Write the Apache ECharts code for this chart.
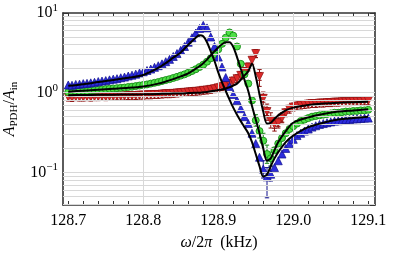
<!DOCTYPE html>
<html><head><meta charset="utf-8">
<script src="https://cdn.jsdelivr.net/npm/echarts@6/dist/echarts.min.js"></script>
<style>html,body{margin:0;padding:0;background:#fff}#c{width:395px;height:260px}</style>
</head><body><div id="c"></div>
<script>
// ---- data ----
const freq = [128.700,128.705,128.710,128.715,128.720,128.725,128.730,128.735,128.740,128.745,
128.750,128.755,128.760,128.765,128.770,128.775,128.780,128.785,128.790,128.795,
128.800,128.805,128.810,128.815,128.820,128.825,128.830,128.835,128.840,128.845,
128.850,128.855,128.860,128.865,128.870,128.875,128.880,128.885,128.890,128.895,
128.900,128.905,128.910,128.915,128.920,128.925,128.930,128.935,128.940,128.945,
128.950,128.955,128.960,128.965,128.970,128.975,128.980,128.985,128.990,128.995,
129.000,129.005,129.010,129.015,129.020,129.025,129.030,129.035,129.040,129.045,
129.050,129.055,129.060,129.065,129.070,129.075,129.080,129.085,129.090,129.095,129.100];
const blueData = [1.25,1.24,1.27,1.28,1.30,1.31,1.33,1.35,1.38,1.40,
1.42,1.45,1.48,1.50,1.54,1.57,1.62,1.66,1.71,1.77,
1.83,1.90,1.98,2.08,2.18,2.30,2.45,2.62,2.85,3.10,
3.40,3.80,4.30,4.90,5.60,6.40,7.00,6.50,5.00,3.80,
2.80,2.10,1.55,1.20,0.95,0.80,0.63,0.50,0.41,0.31,
0.23,0.155,0.11,0.088,0.095,0.115,0.14,0.17,0.20,0.23,
0.26,0.29,0.31,0.33,0.35,0.37,0.385,0.40,0.41,0.42,
0.43,0.44,0.445,0.45,0.46,0.46,0.47,0.47,0.475,0.48,0.48];
const greenData = [1.02,1.00,1.03,1.04,1.05,1.05,1.07,1.08,1.09,1.10,
1.11,1.12,1.13,1.14,1.15,1.16,1.18,1.19,1.21,1.23,
1.25,1.27,1.30,1.33,1.36,1.40,1.44,1.48,1.53,1.58,
1.64,1.70,1.78,1.87,1.97,2.10,2.25,2.45,2.70,3.05,
3.50,4.10,4.90,5.70,5.20,3.80,2.30,1.70,1.30,0.80,
0.45,0.33,0.25,0.17,0.15,0.19,0.23,0.27,0.31,0.35,
0.38,0.41,0.44,0.46,0.48,0.50,0.51,0.52,0.53,0.54,
0.55,0.56,0.56,0.57,0.58,0.58,0.59,0.59,0.60,0.60,0.61];
const redData = [0.88,0.87,0.89,0.88,0.88,0.89,0.88,0.89,0.89,0.90,
0.89,0.90,0.90,0.91,0.90,0.91,0.92,0.91,0.92,0.93,
0.93,0.94,0.94,0.95,0.95,0.96,0.97,0.97,0.98,0.99,
1.00,1.01,1.02,1.03,1.04,1.05,1.07,1.08,1.10,1.12,
1.15,1.19,1.23,1.30,1.40,1.50,1.65,1.85,2.10,2.55,
3.10,1.60,0.85,0.58,0.45,0.40,0.42,0.48,0.56,0.62,
0.66,0.68,0.70,0.71,0.72,0.73,0.73,0.74,0.74,0.75,
0.75,0.76,0.76,0.77,0.77,0.77,0.78,0.78,0.78,0.79,0.79];

const fitFreq = [128.70,128.72,128.74,128.76,128.78,128.80,128.82,128.83,128.84,128.85,
128.86,128.87,128.875,128.88,128.885,128.89,128.895,128.90,128.905,128.91,
128.915,128.92,128.925,128.93,128.935,128.94,128.945,128.95,128.955,128.96,
128.965,128.97,128.975,128.98,128.99,129.00,129.02,129.04,129.06,129.08,129.10];
const blueFit = [1.22,1.28,1.36,1.44,1.54,1.67,2.05,2.35,2.75,3.2,
4.0,4.9,5.25,5.1,4.3,3.3,2.5,1.8,1.35,1.05,
0.82,0.65,0.53,0.44,0.37,0.31,0.24,0.17,0.12,0.089,
0.094,0.12,0.15,0.18,0.24,0.29,0.37,0.42,0.46,0.48,0.50];
const greenFit = [1.03,1.06,1.09,1.12,1.15,1.2,1.3,1.38,1.48,1.6,
1.75,2.0,2.15,2.35,2.6,2.95,3.3,3.7,4.05,4.3,
4.3,3.75,2.8,2.0,1.45,1.05,0.68,0.46,0.31,0.2,
0.14,0.15,0.19,0.24,0.33,0.42,0.49,0.54,0.58,0.60,0.62];
const redFit = [0.93,0.935,0.94,0.945,0.95,0.955,0.965,0.97,0.975,0.98,
0.99,1.0,1.0,1.01,1.02,1.04,1.06,1.08,1.1,1.13,
1.17,1.23,1.3,1.45,1.65,1.85,2.3,1.6,0.95,0.58,
0.41,0.42,0.47,0.52,0.6,0.65,0.70,0.73,0.75,0.76,0.77];

// error bars [freq, low, high]
const blueErr = [[128.960,0.085,0.14],[128.965,0.048,0.115],[128.970,0.078,0.12]];
const greenErr = [[128.950,0.38,0.53],[128.955,0.27,0.40],[128.960,0.20,0.31],[128.965,0.13,0.22],[128.970,0.12,0.18]];
const redErr = [[128.950,2.75,3.45],[128.955,1.2,1.95],[128.960,0.68,1.02],[128.965,0.45,0.72],
[128.970,0.36,0.56],[128.975,0.33,0.49],[128.980,0.36,0.50],[128.985,0.42,0.56]];
const redRelErr = 0.12; // typical size of the small red error bars

const xLabelValues = [128.7,128.8,128.9,129.0,129.1];
const xTickValues = [128.70,128.72,128.74,128.76,128.78,128.80,128.82,128.84,128.86,128.88,128.90,
128.92,128.94,128.96,128.98,129.00,129.02,129.04,129.06,129.08,129.10];
const xGrid = [128.8,128.9,129.0];
const yGrid = [0.04,0.05,0.06,0.07,0.08,0.09,0.1,0.2,0.3,0.4,0.5,0.6,0.7,0.8,0.9,1,2,3,4,5,6,7,8,9];

// ---- chart ----
const SERIF = '"Liberation Serif","DejaVu Serif",serif';
const C = {blue:'#2c2cdc', blueE:'#10108c', green:'#4ee046', greenE:'#178a17', red:'#dc2a2a', redE:'#8e1010'};

const pairs = (xs, ys) => xs.map((x, i) => [x, ys[i]]);
const smallRed = freq.map((f, i) => [f, redData[i] / (1 + redRelErr), redData[i] * (1 + redRelErr)]);

function errRender(color) {
  return function (params, api) {
    const x = api.value(0), lo = api.value(1), hi = api.value(2);
    const p1 = api.coord([x, lo]), p2 = api.coord([x, hi]);
    const cap = 2.2, st = {stroke: color, lineWidth: 1};
    return {type: 'group', children: [
      {type: 'line', shape: {x1: p1[0], y1: p1[1], x2: p2[0], y2: p2[1]}, style: st},
      {type: 'line', shape: {x1: p1[0] - cap, y1: p1[1], x2: p1[0] + cap, y2: p1[1]}, style: st},
      {type: 'line', shape: {x1: p2[0] - cap, y1: p2[1], x2: p2[0] + cap, y2: p2[1]}, style: st}
    ]};
  };
}

const frame = {lineStyle: {color: '#333', width: 1.6}};
const chart = echarts.init(document.getElementById('c'), null, {renderer: 'canvas'});
chart.setOption({
  animation: false,
  backgroundColor: '#fff',
  grid: {left: 63, right: 20, top: 13, bottom: 55, outerBoundsMode: 'none'},
  xAxis: [{
    type: 'value', min: 128.693, max: 129.109, position: 'bottom',
    axisLine: Object.assign({show: true, onZero: false}, frame),
    axisTick: {show: true, inside: true, length: 4, lineStyle: {color: '#333', width: 1}, customValues: xTickValues},
    axisLabel: {customValues: xLabelValues, fontFamily: SERIF, fontSize: 16, color: '#000', margin: 8,
      alignMinLabel: 'center', alignMaxLabel: 'center', hideOverlap: false,
      formatter: v => v.toFixed(1)},
    splitLine: {show: false},
    name: '{i|ω}{n|/2}{i|π}{n|  (kHz)}', nameLocation: 'middle', nameGap: 30,
    nameTextStyle: {rich: {i: {fontFamily: SERIF, fontSize: 16, fontStyle: 'italic', color: '#000'},
      n: {fontFamily: SERIF, fontSize: 16, color: '#000'}}}
  }, {
    type: 'value', min: 128.693, max: 129.109, position: 'top',
    axisLine: Object.assign({show: true, onZero: false}, frame),
    axisTick: {show: true, inside: true, length: 4, lineStyle: {color: '#333', width: 1}, customValues: xTickValues},
    axisLabel: {show: false}, splitLine: {show: false}
  }],
  yAxis: [{
    type: 'log', min: 0.039, max: 10, position: 'left',
    axisLine: Object.assign({show: true, onZero: false}, frame),
    axisTick: {show: true, inside: true, length: 5, lineStyle: {color: '#333', width: 1}},
    axisLabel: {showMinLabel: false, margin: 5, color: '#000',
      formatter: v => {
        const l = Math.log10(v), e = Math.round(l);
        if (Math.abs(l - e) > 1e-6) return '';
        return '{b|10}{s|' + (e < 0 ? '\u2212' + (-e) : e) + '}';
      },
      rich: {b: {fontFamily: SERIF, fontSize: 16, color: '#000'},
        s: {fontFamily: SERIF, fontSize: 11, color: '#000', verticalAlign: 'top', padding: [0, 0, 10, 0]}}},
    splitLine: {show: false},
    name: '{i|A}{s|PDH}{n|/}{i|A}{s|in}', nameLocation: 'middle', nameRotate: 90, nameGap: 42,
    nameTextStyle: {rich: {i: {fontFamily: SERIF, fontSize: 16, fontStyle: 'italic', color: '#000'},
      n: {fontFamily: SERIF, fontSize: 16, color: '#000'},
      s: {fontFamily: SERIF, fontSize: 11, color: '#000', padding: [9, 0, 0, 0]}}}
  }, {
    type: 'log', min: 0.039, max: 10, position: 'right',
    axisLine: Object.assign({show: true, onZero: false}, frame),
    axisTick: {show: true, inside: true, length: 5, lineStyle: {color: '#333', width: 1}},
    axisLabel: {show: false}, splitLine: {show: false}
  }],
  series: [
    {type: 'line', data: [], z: 0, silent: true,
      markLine: {silent: true, symbol: 'none', animation: false, label: {show: false},
        lineStyle: {color: '#d8d8d8', width: 1, type: 'solid'},
        data: xGrid.map(v => ({xAxis: v})).concat(yGrid.map(v => ({yAxis: v})))}},
    {type: 'custom', renderItem: errRender(C.redE), data: smallRed, encode: {x: 0, y: [1, 2]}, z: 2, silent: true},
    {type: 'custom', renderItem: errRender(C.redE), data: redErr, encode: {x: 0, y: [1, 2]}, z: 2, silent: true},
    {type: 'custom', renderItem: errRender(C.greenE), data: greenErr, encode: {x: 0, y: [1, 2]}, z: 2, silent: true},
    {type: 'custom', renderItem: errRender(C.blueE), data: blueErr, encode: {x: 0, y: [1, 2]}, z: 2, silent: true},
    {type: 'scatter', data: pairs(freq, redData), symbol: 'triangle', symbolRotate: 180, symbolSize: 8, z: 3,
      itemStyle: {color: C.red, borderColor: C.redE, borderWidth: 0.7, opacity: 1}},
    {type: 'scatter', data: pairs(freq, greenData), symbol: 'circle', symbolSize: 7, z: 3,
      itemStyle: {color: C.green, borderColor: C.greenE, borderWidth: 0.9, opacity: 1}},
    {type: 'scatter', data: pairs(freq, blueData), symbol: 'triangle', symbolSize: 8, z: 3,
      itemStyle: {color: C.blue, borderColor: C.blueE, borderWidth: 0.7, opacity: 1}},
    {type: 'line', data: pairs(fitFreq, redFit), smooth: 0.3, symbol: 'none', z: 5, lineStyle: {color: '#000', width: 2}},
    {type: 'line', data: pairs(fitFreq, greenFit), smooth: 0.3, symbol: 'none', z: 5, lineStyle: {color: '#000', width: 2}},
    {type: 'line', data: pairs(fitFreq, blueFit), smooth: 0.3, symbol: 'none', z: 5, lineStyle: {color: '#000', width: 2}}
  ]
});
</script></body></html>
